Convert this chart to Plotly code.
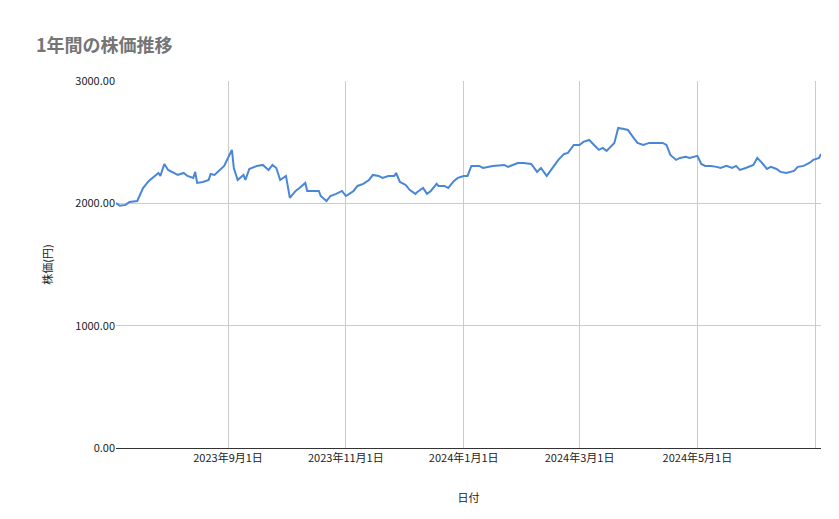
import plotly.graph_objects as go

dates = ["2023-07-05","2023-07-07","2023-07-10","2023-07-12","2023-07-16","2023-07-19","2023-07-22","2023-07-25","2023-07-27","2023-07-28","2023-07-30",
"2023-08-01","2023-08-04","2023-08-06","2023-08-09","2023-08-11","2023-08-14","2023-08-15","2023-08-16","2023-08-19","2023-08-22","2023-08-23","2023-08-25","2023-08-28","2023-08-30",
"2023-09-01","2023-09-03","2023-09-04","2023-09-06","2023-09-09","2023-09-10","2023-09-12","2023-09-16","2023-09-19","2023-09-22","2023-09-24","2023-09-26","2023-09-28",
"2023-10-01","2023-10-03","2023-10-06","2023-10-08","2023-10-11","2023-10-12","2023-10-15","2023-10-18","2023-10-19","2023-10-22","2023-10-24","2023-10-27","2023-10-30",
"2023-11-01","2023-11-02","2023-11-05","2023-11-07","2023-11-10","2023-11-13","2023-11-15","2023-11-18","2023-11-20","2023-11-23","2023-11-26","2023-11-27","2023-11-29",
"2023-12-02","2023-12-04","2023-12-07","2023-12-08","2023-12-11","2023-12-13","2023-12-15","2023-12-18","2023-12-19","2023-12-22","2023-12-24","2023-12-27","2023-12-29",
"2024-01-01","2024-01-03","2024-01-05","2024-01-09","2024-01-11","2024-01-16","2024-01-22","2024-01-24","2024-01-27","2024-01-29",
"2024-02-01","2024-02-05","2024-02-08","2024-02-10","2024-02-13","2024-02-16","2024-02-19","2024-02-22","2024-02-24","2024-02-27",
"2024-03-01","2024-03-03","2024-03-06","2024-03-09","2024-03-11","2024-03-13","2024-03-15","2024-03-19","2024-03-21","2024-03-24","2024-03-26","2024-03-29","2024-03-31",
"2024-04-03","2024-04-06","2024-04-08","2024-04-13","2024-04-15","2024-04-17","2024-04-20","2024-04-22","2024-04-25","2024-04-27",
"2024-05-01","2024-05-03","2024-05-05","2024-05-08","2024-05-11","2024-05-13","2024-05-16","2024-05-19","2024-05-21","2024-05-23","2024-05-26","2024-05-30",
"2024-06-01","2024-06-03","2024-06-06","2024-06-08","2024-06-11","2024-06-13","2024-06-16","2024-06-20","2024-06-22","2024-06-25","2024-06-28","2024-06-30",
"2024-07-03","2024-07-04"]
prices = [2003,1980,1987,2011,2019,2125,2183,2224,2248,2224,2322,
2273,2248,2232,2248,2224,2208,2257,2167,2175,2192,2240,2232,2281,2306,
2371,2437,2289,2191,2232,2191,2281,2306,2314,2273,2314,2289,2191,
2224,2044,2101,2126,2167,2101,2101,2101,2060,2019,2060,2077,2101,
2060,2069,2101,2142,2159,2191,2232,2224,2208,2224,2224,2248,2175,
2150,2110,2077,2093,2126,2077,2101,2159,2142,2142,2126,2183,2208,
2224,2224,2306,2306,2289,2306,2314,2298,2314,2330,
2330,2322,2257,2289,2224,2289,2355,2404,2412,2477,
2477,2502,2518,2469,2437,2453,2429,2494,2616,2608,2600,2535,2494,
2477,2494,2494,2494,2477,2396,2355,2371,2380,2371,
2388,2322,2306,2306,2298,2289,2306,2289,2306,2273,2289,2314,
2371,2339,2281,2298,2281,2257,2249,2265,2298,2306,2330,2355,
2371,2404]

tick_vals = ["2023-09-01","2023-11-01","2024-01-01","2024-03-01","2024-05-01","2024-07-01"]
tick_text = ["2023年9月1日","2023年11月1日","2024年1月1日","2024年3月1日","2024年5月1日",""]
y_ticks = [0, 1000, 2000, 3000]

fig = go.Figure(go.Scatter(x=dates, y=prices, mode="lines",
                           line=dict(color="#4a86d8", width=2)))
font = "Noto Sans CJK JP"
fig.update_layout(
    width=839, height=519, plot_bgcolor="white", paper_bgcolor="white",
    margin=dict(l=108, r=26, t=73, b=79, autoexpand=False),
    font=dict(family=font, color="#222", size=11),
    title=dict(text="1年間の株価推移", x=28/839, y=1-38/519, xref="paper", yref="container",
               xanchor="left", yanchor="middle", automargin=False,
               font=dict(size=18, color="#757575", family=font, weight="bold")),
    showlegend=False,
    xaxis=dict(range=["2023-07-05", "2024-07-04"], tickvals=tick_vals, ticktext=tick_text,
               showgrid=True, gridcolor="#cccccc", showline=True, linecolor="#333",
               ticks="", automargin=False,
               title=dict(text="日付", font=dict(size=11), standoff=30), tickfont=dict(size=11)),
    yaxis=dict(range=[0, 3000], tickvals=y_ticks, tickformat=".2f", automargin=False,
               showgrid=True, gridcolor="#cccccc", zeroline=False,
               title=dict(text="株価(円)", font=dict(size=11), standoff=20), tickfont=dict(size=11)),
)
fig.layout.title.x = 28/839
fig.layout.title.xref = "container"
fig.write_html("out.html")
